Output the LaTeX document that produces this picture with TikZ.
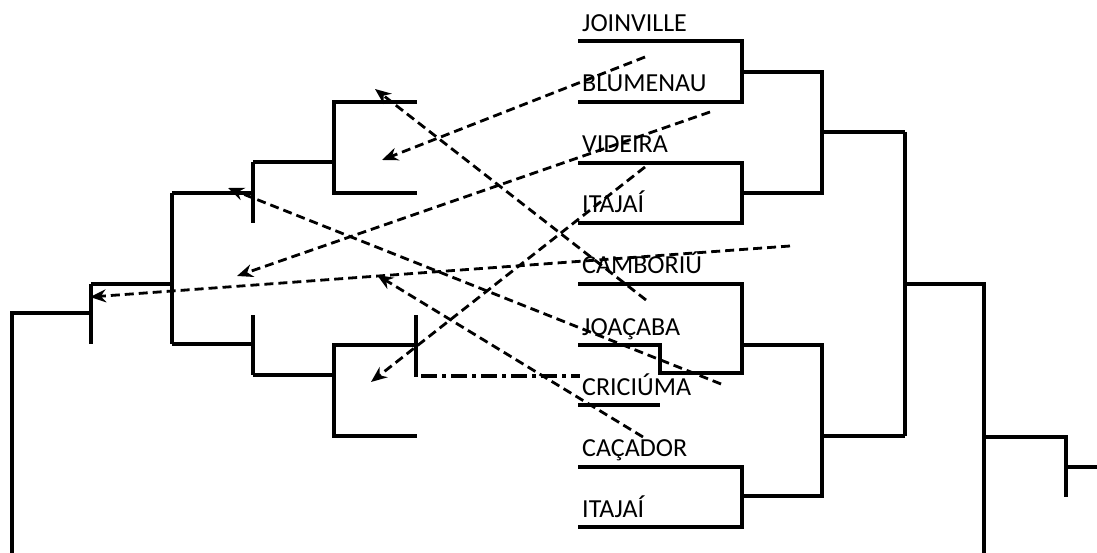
\documentclass[tikz,border=0pt]{standalone}
\usepackage{fontspec}
\setmainfont{Carlito}
\usetikzlibrary{arrows.meta}
\begin{document}
\begin{tikzpicture}[x=1pt,y=-1pt,
  br/.style={line width=3.2pt},
  mv/.style={line width=2.8pt, dash pattern=on 9pt off 5pt, -{Stealth[length=16pt,width=13pt]}},
  dd/.style={line width=3.2pt, dash pattern=on 16pt off 5pt on 4pt off 5pt},
  lbl/.style={anchor=base west, inner sep=0pt, font=\fontsize{26}{30}\selectfont}]
\useasboundingbox (0,0) rectangle (1097,553);
% labels
\node[lbl] (l1) at (582,32) {JOINVILLE};
\node[lbl] (l2) at (582,92) {BLUMENAU};
\node[lbl] (l3) at (582,153) {VIDEIRA};
\node[lbl] (l4) at (582,213) {ITAJAÍ};
\node[lbl] (l5) at (582,273) {CAMBORIÚ};
\node[lbl] (l6) at (582,335) {JOAÇABA};
\node[lbl] (l7) at (582,395) {CRICIÚMA};
\node[lbl] (l8) at (582,456) {CAÇADOR};
\node[lbl] (l9) at (582,517) {ITAJAÍ};
% right bracket
\draw[br] (578,41) -| (742,102) -- (578,102);
\draw[br] (578,163) -| (742,223) -- (578,223);
\draw[br] (742,72) -| (822,193) -- (742,193);
\draw[br] (822,132) -- (905,132);
\draw[br] (578,284) -| (742,373) -- (660,373) -- (660,345) -- (578,345);
\draw[br] (578,405) -- (660,405);
\draw[br] (578,467) -| (742,527) -- (578,527);
\draw[br] (742,345) -| (822,496) -- (742,496);
\draw[br] (822,436) -- (905,436);
\draw[br] (905,132) -- (905,436);
\draw[br] (905,284) -| (984,553);
\draw[br] (984,437) -| (1066,497);
\draw[br] (1066,467) -- (1097,467);
% left bracket
\draw[br] (12,553) |- (91,313);
\draw[br] (91,284) -- (91,344);
\draw[br] (91,284) -- (172,284);
\draw[br] (172,193) -- (172,344);
\draw[br] (172,193) -- (253,193);
\draw[br] (172,344) -- (253,344);
\draw[br] (253,162) -- (253,223);
\draw[br] (253,162) -- (334,162);
\draw[br] (417,102) -| (334,193) -- (417,193);
\draw[br] (253,315) -- (253,375);
\draw[br] (253,375) -- (334,375);
\draw[br] (417,345) -| (334,436) -- (417,436);
\draw[br] (416,315) -- (416,377);
\draw[dd] (421,376) -- (580,376);
% arrows
\coordinate (s1) at (645,57);  \coordinate (t1) at (382,160);
\coordinate (s2) at (710,112); \coordinate (t2) at (237,276);
\coordinate (s3) at (645,167); \coordinate (t3) at (371,382);
\coordinate (s4) at (790,246); \coordinate (t4) at (90,297);
\coordinate (s5) at (646,300); \coordinate (t5) at (375,89);
\coordinate (s6) at (721,384); \coordinate (t6) at (228,188);
\coordinate (s7) at (643,437); \coordinate (t7) at (377,275);
\foreach \i in {1,...,7} {\draw[mv] (s\i) -- (t\i);}
\end{tikzpicture}
\end{document}
